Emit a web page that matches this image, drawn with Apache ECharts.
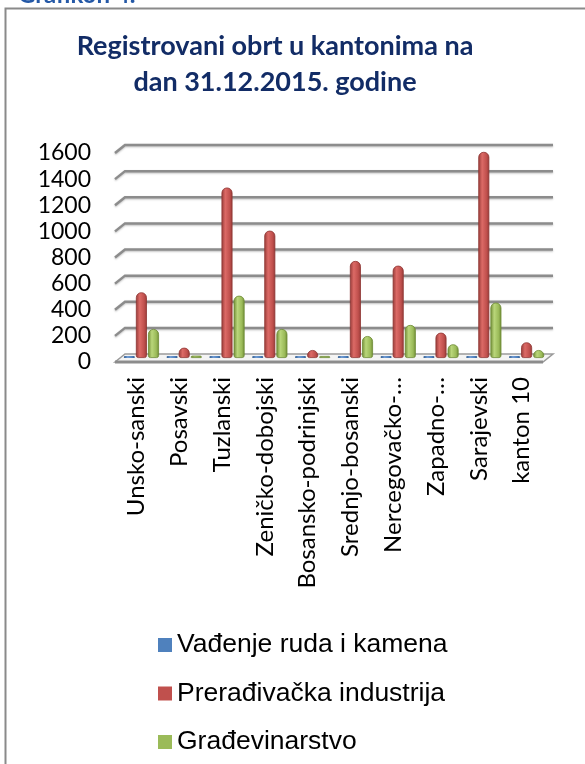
<!DOCTYPE html>
<html>
<head>
<meta charset="utf-8">
<script src="https://cdn.jsdelivr.net/npm/echarts@6/dist/echarts.min.js"></script>
<style>
body{margin:0;background:#fff}
#chart{width:585px;height:764px}
</style>
</head>
<body>
<div id="chart"></div>
<script>
// kantoni
var categories = ['Unsko-sanski', 'Posavski', 'Tuzlanski', 'Zeničko-dobojski', 'Bosansko-podrinjski',
    'Srednjo-bosanski', 'Nercegovačko-…', 'Zapadno-…', 'Sarajevski', 'kanton 10'];
var seriesNames = ['Vađenje ruda i kamena', 'Prerađivačka industrija', 'Građevinarstvo'];
var vadjenje = [5, 3, 5, 4, 2, 4, 5, 3, 4, 2];
var preradjivacka = [503, 79, 1305, 975, 61, 743, 707, 194, 1578, 120];
var gradjevinarstvo = [222, 18, 477, 222, 10, 168, 253, 105, 424, 61];
var yTicks = [0, 200, 400, 600, 800, 1000, 1200, 1400, 1600];

var chart = echarts.init(document.getElementById('chart'));

function cylinder(dark, light, mid) {
    return new echarts.graphic.LinearGradient(0, 0, 1, 0, [
        {offset: 0, color: dark},
        {offset: 0.35, color: light},
        {offset: 0.75, color: mid},
        {offset: 1, color: dark}
    ]);
}

// 3D zid: kose linije + stražnje linije mreže + pod
function renderWall(params, api) {
    var cs = params.coordSys;
    var v = api.value(1);
    var y = api.coord([0, v])[1];
    var left = cs.x, right = cs.x + cs.width;
    var dx = 5, dy = 4;
    if (v === 0) {
        return {
            type: 'group',
            children: [
                {type: 'polygon',
                    shape: {points: [[left - dx, y + dy], [left + dx, y - dy], [right + dx, y - dy], [right - dx, y + dy]]},
                    style: {fill: '#f4f4f4', stroke: '#9a9a9a', lineWidth: 1.5}},
                {type: 'line',
                    shape: {x1: left - dx, y1: y + dy, x2: right - dx, y2: y + dy},
                    style: {stroke: '#8c8c8c', lineWidth: 3}}
            ]
        };
    }
    return {
        type: 'polyline',
        shape: {points: [[left - dx, y + dy], [left + dx, y - dy], [right + dx, y - dy]]},
        style: {stroke: '#8c8c8c', lineWidth: 2.5, fill: null,
            shadowColor: 'rgba(0,0,0,0.25)', shadowBlur: 2, shadowOffsetY: 1}
    };
}

var barBase = {
    type: 'bar',
    xAxisIndex: 0,
    yAxisIndex: 0,
    barWidth: 11,
    barGap: '10%',
    barMinHeight: 2,
    z: 3
};

var legendColors = ['#4F81BD', '#C0504D', '#9BBB59'];

var option = {
    backgroundColor: '#fff',
    animation: false,
    title: {
        text: 'Registrovani obrt u kantonima na\ndan 31.12.2015. godine',
        left: 270,
        top: 23,
        textAlign: 'center',
        textStyle: {fontFamily: 'Lato', fontSize: 27, fontWeight: 'bold', color: '#122c66', lineHeight: 36}
    },
    graphic: [
        {type: 'rect', shape: {x: 5.5, y: 8.5, width: 700, height: 800},
            style: {fill: null, stroke: '#8a8a8a', lineWidth: 2}, z: 0},
        {type: 'text', x: 18, y: 7,
            style: {text: 'Grafikon 4.', font: 'bold 24px Lato', fill: '#2458a6', verticalAlign: 'bottom'}}
    ],
    legend: {
        orient: 'vertical',
        left: 153,
        top: 625,
        itemWidth: 14,
        itemHeight: 14,
        itemGap: 18.5,
        icon: 'rect',
        itemStyle: {borderWidth: 0},
        textStyle: {fontFamily: 'Liberation Sans', fontSize: 26.5, lineHeight: 30, color: '#000'},
        data: seriesNames.map(function (n, i) {
            return {name: n, itemStyle: {color: legendColors[i], borderColor: legendColors[i], borderWidth: 0}};
        })
    },
    grid: [
        // srednja ravnina (stupci)
        {left: 120, right: 37, top: 149, bottom: 406, outerBoundsMode: 'none'},
        // prednja ravnina (oznake)
        {left: 115, right: 42, top: 153, bottom: 402, outerBoundsMode: 'none'}
    ],
    xAxis: [
        {type: 'category', gridIndex: 0, data: categories, show: false},
        {type: 'category', gridIndex: 1, data: categories,
            axisLine: {show: false}, axisTick: {show: false},
            axisLabel: {rotate: 90, margin: 15, fontFamily: 'Lato', fontSize: 24, color: '#000', interval: 0}}
    ],
    yAxis: [
        {type: 'value', gridIndex: 0, min: 0, max: 1600, interval: 200, show: false},
        {type: 'value', gridIndex: 1, min: 0, max: 1600, interval: 200,
            axisLine: {show: false}, axisTick: {show: false}, splitLine: {show: false},
            axisLabel: {margin: 24, fontFamily: 'Lato', fontSize: 23, color: '#000',
                formatter: function (v) { return String(v); }}}
    ],
    series: [
        {
            type: 'custom',
            name: 'wall',
            xAxisIndex: 0,
            yAxisIndex: 0,
            renderItem: renderWall,
            encode: {x: 0, y: 1},
            data: yTicks.map(function (t) { return [0, t]; }),
            silent: true,
            z: 1
        },
        Object.assign({}, barBase, {
            name: seriesNames[0],
            data: vadjenje,
            itemStyle: {color: cylinder('#2f5a8c', '#6f9bd3', '#4F81BD'), borderRadius: [3, 3, 2, 2]}
        }),
        Object.assign({}, barBase, {
            name: seriesNames[1],
            data: preradjivacka,
            itemStyle: {color: cylinder('#963a37', '#dc6a66', '#c0504d'), borderRadius: [5, 5, 2, 2],
                borderColor: '#8e3532', borderWidth: 0.8}
        }),
        Object.assign({}, barBase, {
            name: seriesNames[2],
            data: gradjevinarstvo,
            itemStyle: {color: cylinder('#6f8a35', '#b9d67a', '#9BBB59'), borderRadius: [5, 5, 2, 2],
                borderColor: '#6c8a33', borderWidth: 0.8}
        })
    ]
};

chart.setOption(option);
</script>
</body>
</html>
